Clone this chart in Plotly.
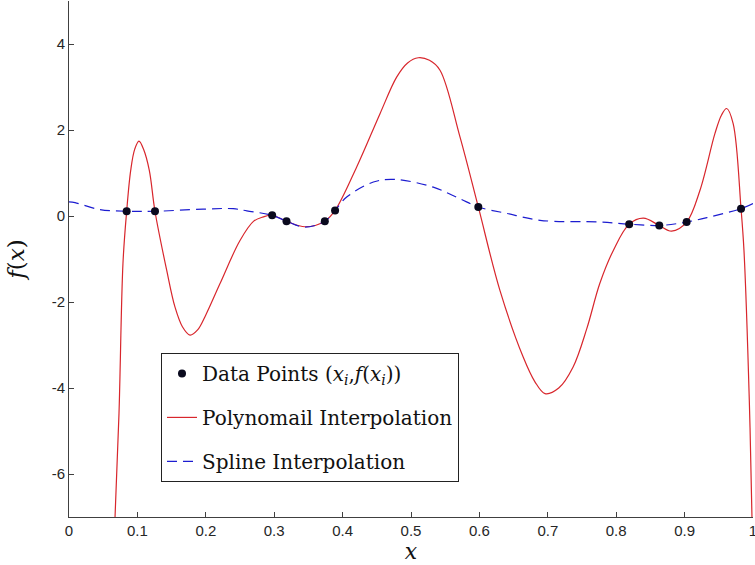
import plotly.graph_objects as go

# Data points (x_i, f(x_i))
pts_x = [0.0843, 0.1257, 0.297, 0.318, 0.374, 0.389, 0.5984, 0.819, 0.863, 0.903, 0.9825]
pts_y = [0.11, 0.11, 0.016, -0.12, -0.12, 0.13, 0.21, -0.19, -0.22, -0.14, 0.17]

# Polynomial interpolation curve
poly_x = [0.0650, 0.0673, 0.0731, 0.0789, 0.0843, 0.0902, 0.0960, 0.1023, 0.1090, 0.1174,
          0.1257, 0.1428, 0.155, 0.166, 0.1769, 0.188, 0.200, 0.2208, 0.25, 0.27,
          0.284, 0.297, 0.318, 0.345, 0.374, 0.389, 0.4206, 0.4547, 0.479, 0.495,
          0.5107, 0.527, 0.5424, 0.5716, 0.5984, 0.630, 0.664, 0.681, 0.696, 0.716,
          0.737, 0.757, 0.776, 0.7958, 0.819, 0.8397, 0.863, 0.881, 0.903, 0.9225,
          0.9444, 0.9540, 0.9615, 0.971, 0.9825, 0.9868, 0.9946, 0.9985, 1.0]
poly_y = [-8.5, -7.0, -4.59, -1.10, 0.11, 1.06, 1.55, 1.74, 1.55, 1.06,
          0.11, -1.26, -2.12, -2.58, -2.77, -2.65, -2.3, -1.57, -0.57, -0.12,
          -0.02, 0.016, -0.12, -0.25, -0.12, 0.13, 1.14, 2.38, 3.23, 3.56,
          3.68, 3.62, 3.39, 1.84, 0.21, -1.73, -3.28, -3.85, -4.13, -4.0,
          -3.51, -2.62, -1.57, -0.80, -0.19, -0.05, -0.22, -0.35, -0.14, 0.60,
          1.92, 2.35, 2.50, 2.15, 0.17, -0.80, -4.29, -7.0, -8.0]

# Spline interpolation curve
spl_x = [0.0, 0.0088, 0.045, 0.0843, 0.1257, 0.196, 0.24, 0.26, 0.297, 0.318,
         0.345, 0.374, 0.389, 0.406, 0.445, 0.4766, 0.5326, 0.5716, 0.5984, 0.64,
         0.6886, 0.776, 0.819, 0.863, 0.903, 0.937, 0.9825, 1.0]
spl_y = [0.33, 0.31, 0.15, 0.11, 0.11, 0.16, 0.17, 0.12, 0.016, -0.12,
         -0.26, -0.12, 0.13, 0.44, 0.79, 0.85, 0.67, 0.40, 0.21, 0.06,
         -0.10, -0.14, -0.19, -0.22, -0.14, -0.02, 0.17, 0.29]

x_ticks = [0, 0.1, 0.2, 0.3, 0.4, 0.5, 0.6, 0.7, 0.8, 0.9, 1]
x_ticktext = ["0", "0.1", "0.2", "0.3", "0.4", "0.5", "0.6", "0.7", "0.8", "0.9", "1"]
y_ticks = [-6, -4, -2, 0, 2, 4]
y_ticktext = ["-6", "-4", "-2", "0", "2", "4"]

fig = go.Figure()
fig.add_trace(go.Scatter(
    x=poly_x, y=poly_y, mode="lines", name="Polynomail Interpolation",
    line=dict(color="#d8262c", width=1.2, shape="spline", smoothing=1.0),
    legendrank=2, legendgroup="b"))
fig.add_trace(go.Scatter(
    x=spl_x, y=spl_y, mode="lines", name="Spline Interpolation",
    line=dict(color="#1c1cd0", width=1.2, dash="10px,6px", shape="spline", smoothing=1.0),
    legendrank=3, legendgroup="c"))
fig.add_trace(go.Scatter(
    x=pts_x, y=pts_y, mode="markers",
    name="Data Points (<i>x<sub>i</sub></i>,<i>f</i>(<i>x<sub>i</sub></i>))",
    marker=dict(color="#0a0a1e", size=8, symbol="circle"),
    legendrank=1, legendgroup="a"))

axis_font = dict(family="Liberation Sans, Arial, sans-serif", size=15, color="#262626")
serif = "DejaVu Serif, Liberation Serif, serif"

fig.update_layout(
    width=755, height=565,
    margin=dict(l=69, r=2, t=1, b=48),
    paper_bgcolor="white", plot_bgcolor="white",
    showlegend=True,
    legend=dict(
        x=0.1345, y=0.318, xanchor="left", yanchor="top",
        bgcolor="white", bordercolor="#222", borderwidth=1,
        font=dict(family=serif, size=20, color="#111"),
        traceorder="grouped", tracegroupgap=15,
        entrywidth=292,
    ),
    xaxis=dict(
        range=[0, 1], tickvals=x_ticks, ticktext=x_ticktext,
        showline=True, linecolor="#404040", linewidth=1,
        ticks="inside", ticklen=5, tickcolor="#404040",
        showgrid=False, zeroline=False, tickfont=axis_font,
        ticklabeloverflow="allow",
        title=dict(text="<i>x</i>", standoff=0,
                   font=dict(family=serif, size=22, color="#111")),
        automargin=False,
    ),
    yaxis=dict(
        range=[-7, 5], tickvals=y_ticks, ticktext=y_ticktext,
        showline=True, linecolor="#404040", linewidth=1,
        ticks="inside", ticklen=5, tickcolor="#404040",
        showgrid=False, zeroline=False, tickfont=axis_font,
        title=dict(text="<i>f</i>(<i>x</i>)", standoff=20,
                   font=dict(family=serif, size=23, color="#111")),
        automargin=False,
    ),
)

fig.write_html("out.html")
